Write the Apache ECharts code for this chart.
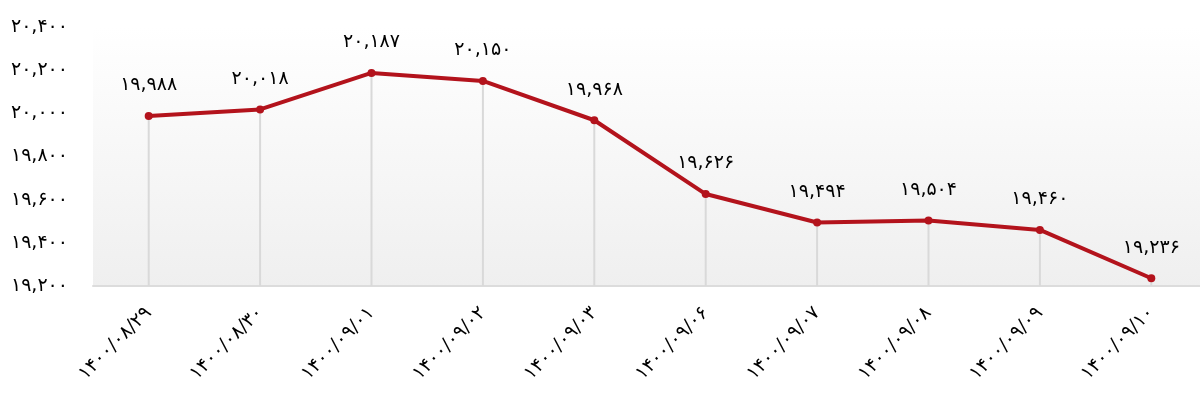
<!DOCTYPE html>
<html>
<head>
<meta charset="utf-8">
<script src="https://cdn.jsdelivr.net/npm/echarts@6/dist/echarts.min.js"></script>
<style>
  html, body { margin: 0; padding: 0; background: #fff; overflow: hidden; }
  #main { width: 1210px; height: 407px; }
</style>
</head>
<body>
<div id="main"></div>
<script>
  // تاریخ‌ها و مقادیر
  const dates = ['1400/08/29', '1400/08/30', '1400/09/01', '1400/09/02', '1400/09/03',
    '1400/09/06', '1400/09/07', '1400/09/08', '1400/09/09', '1400/09/10'];
  const values = [19988, 20018, 20187, 20150, 19968, 19626, 19494, 19504, 19460, 19236];
  const yMin = 19200;
  const yMax = 20400;
  const yStep = 200;

  const faDigits = ['۰', '۱', '۲', '۳', '۴', '۵', '۶', '۷', '۸', '۹'];
  function toFa(str) {
    return String(str).replace(/[0-9]/g, d => faDigits[+d]);
  }
  function fmtNum(v) {
    return toFa(Number(v).toLocaleString('en-US'));
  }

  const font = 'DejaVu Sans';
  const myChart = echarts.init(document.getElementById('main'));
  myChart.setOption({
    animation: false,
    backgroundColor: '#fff',
    grid: {
      left: 93,
      top: 27,
      width: 1114,
      height: 259,
      show: true,
      borderWidth: 0,
      backgroundColor: new echarts.graphic.LinearGradient(0, 0, 0, 1, [
        { offset: 0, color: '#ffffff' },
        { offset: 1, color: '#efefef' },
      ]),
    },
    xAxis: {
      type: 'category',
      data: dates,
      boundaryGap: true,
      axisLine: { lineStyle: { color: '#dcdcdc', width: 2 } },
      axisTick: { show: false },
      splitLine: { show: false },
      axisLabel: {
        rotate: 45,
        margin: 24,
        color: '#000',
        fontSize: 19,
        fontFamily: font,
        formatter: v => toFa(v),
      },
    },
    yAxis: {
      type: 'value',
      min: yMin,
      max: yMax,
      interval: yStep,
      axisLine: { show: false },
      axisTick: { show: false },
      splitLine: { show: false },
      axisLabel: {
        margin: 25,
        color: '#000',
        fontSize: 19,
        fontFamily: font,
        formatter: v => fmtNum(v),
      },
    },
    series: [
      {
        // خطوط عمودی از محور تا نقطه
        type: 'bar',
        data: values,
        barWidth: 2,
        silent: true,
        itemStyle: { color: '#d9d9d9' },
        z: 1,
      },
      {
        type: 'line',
        data: values,
        symbol: 'circle',
        symbolSize: 8,
        lineStyle: { color: '#b3131c', width: 4 },
        itemStyle: { color: '#b3131c' },
        label: {
          show: true,
          position: 'top',
          distance: 17,
          color: '#000',
          fontSize: 19,
          fontFamily: font,
          formatter: p => fmtNum(p.value),
        },
        z: 3,
      },
    ],
  });
</script>
</body>
</html>
